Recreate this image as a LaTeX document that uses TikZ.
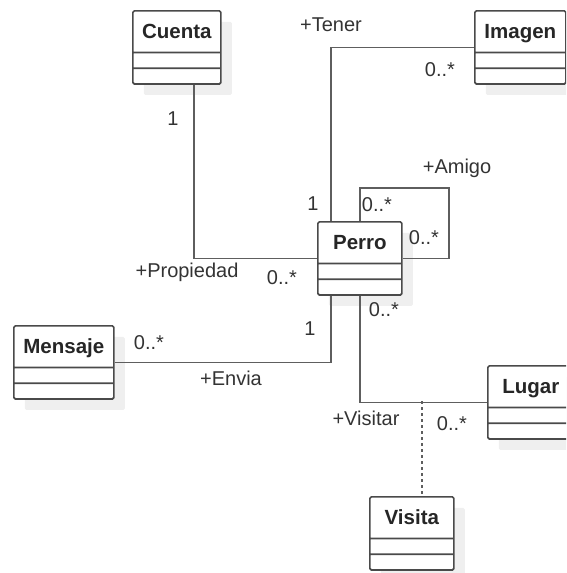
\documentclass[tikz,border=0pt]{standalone}
\usepackage{fontspec}
\setmainfont{Liberation Sans}
\usetikzlibrary{shapes.multipart}
\usetikzlibrary{shadows}

\definecolor{borde}{HTML}{4A4A4A}
\definecolor{linea}{HTML}{5E5E5E}
\definecolor{texto}{HTML}{333333}
\definecolor{sombra}{HTML}{EFEFEF}
\newcommand{\titulo}[1]{\rule[-13pt]{0pt}{40pt}#1}

\begin{document}
\begin{tikzpicture}[x=1pt,y=-1pt,
	clase/.style={rectangle split,rectangle split parts=3,
		rectangle split ignore empty parts=false,
		rectangle split empty part height=14pt,
		rectangle split empty part depth=0pt,
		draw=borde,line width=1.7pt,fill=white,rounded corners=1.5pt,
		inner xsep=0pt,inner ysep=0pt,anchor=north west,
		font=\bfseries\fontsize{20.5}{24}\selectfont,text=black!85,
		drop shadow={shadow xshift=11pt,shadow yshift=-11pt,fill=sombra,opacity=1}},
	asoc/.style={draw=linea,line width=1.8pt},
	etiq/.style={text=texto,inner sep=0pt,font=\fontsize{20}{24}\selectfont}]
\clip (0,0) rectangle (566,573);
% clases
\node[clase,minimum width=88pt] (cuenta) at (132,10) {\titulo{Cuenta}\nodepart{second}\nodepart{third}};
\node[clase,minimum width=91pt] (imagen) at (474,10) {\titulo{Imagen}\nodepart{second}\nodepart{third}};
\node[clase,minimum width=84pt] (perro) at (317,221) {\titulo{Perro}\nodepart{second}\nodepart{third}};
\node[clase,minimum width=100pt] (mensaje) at (13,325) {\titulo{Mensaje}\nodepart{second}\nodepart{third}};
\node[clase,minimum width=86pt] (lugar) at (487,365) {\titulo{Lugar}\nodepart{second}\nodepart{third}};
\node[clase,minimum width=84pt] (visita) at (369,496) {\titulo{Visita}\nodepart{second}\nodepart{third}};
\coordinate (amigo) at (449,188);
\coordinate (cruce) at (422,401);
% asociaciones
\draw[asoc] ([xshift=17pt]cuenta.south) |- (perro.west);
\draw[asoc] (imagen.west) -| ([xshift=-29pt]perro.north);
\draw[asoc] (perro.north) |- (amigo) |- (perro.east);
\draw[asoc] (mensaje.east) -| ([xshift=-29pt]perro.south);
\draw[asoc] (perro.south) |- (lugar.west);
\draw[asoc,dash pattern=on 3pt off 3pt] (cruce) -- (cruce |- visita.north);
% roles y multiplicidades
\node[etiq] (m-cuenta) at (173,119) {1};
\node[etiq] (r-propiedad) at (187,272) {+Propiedad};
\node[etiq] (m-propiedad) at (282,278) {0..*};
\node[etiq] (r-tener) at (331,25) {+Tener};
\node[etiq] (m-imagen) at (440,70) {0..*};
\node[etiq] (m-tener) at (313,204) {1};
\node[etiq] (r-amigo) at (457,168) {+Amigo};
\node[etiq] (m-amigo1) at (377,205) {0..*};
\node[etiq] (m-amigo2) at (424,238) {0..*};
\node[etiq] (m-mensaje) at (149,343) {0..*};
\node[etiq] (r-envia) at (231,378) {+Envia};
\node[etiq] (m-envia) at (310,329) {1};
\node[etiq] (m-visitar) at (384,310) {0..*};
\node[etiq] (r-visitar) at (366,418) {+Visitar};
\node[etiq] (m-lugar) at (452,424) {0..*};
\end{tikzpicture}
\end{document}
